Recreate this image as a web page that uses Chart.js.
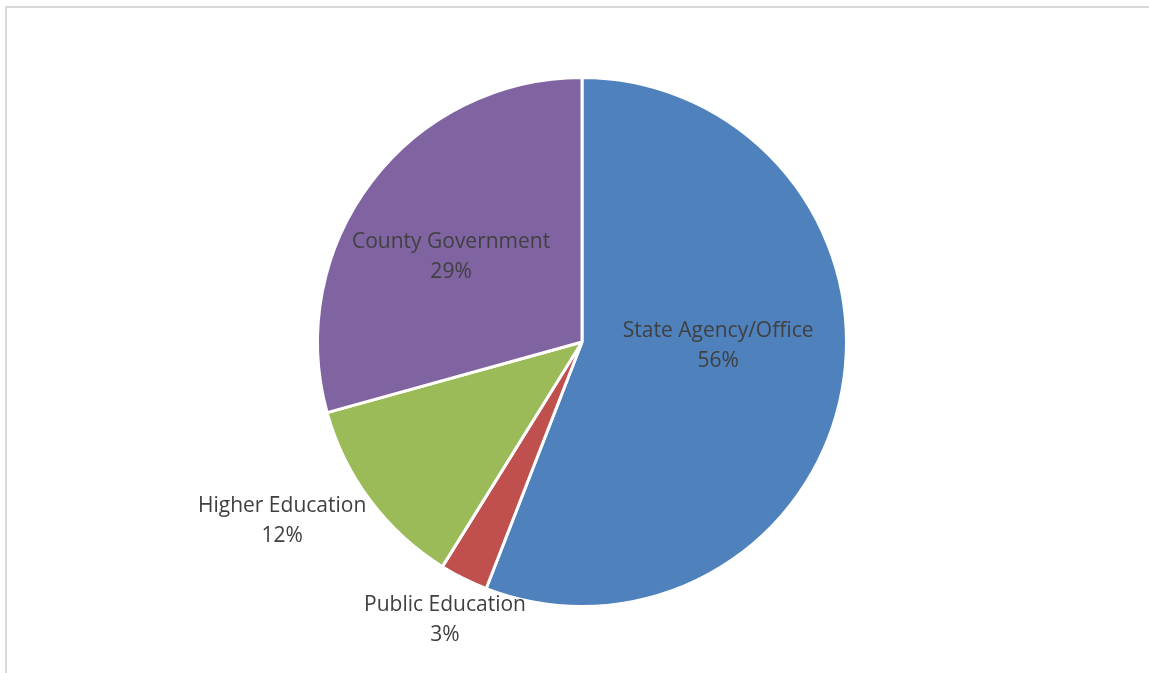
<!DOCTYPE html>
<html>
<head>
<meta charset="utf-8">
<script src="https://cdn.jsdelivr.net/npm/chart.js@4/dist/chart.umd.min.js"></script>
<style>
  html, body { margin: 0; padding: 0; background: #fff; }
  #frame {
    position: absolute; left: 5px; top: 6px; width: 1200px; height: 700px;
    border-top: 2px solid #d9d9d9; border-left: 2px solid #d9d9d9;
  }
  #wrap { position: absolute; left: 0; top: 0; width: 1149px; height: 673px; }
</style>
</head>
<body>
<div id="frame"></div>
<div id="wrap"><canvas id="chart"></canvas></div>
<script>
// slice categories and shares (percent), clockwise from 12 o'clock
const categories = ['State Agency/Office', 'Public Education', 'Higher Education', 'County Government'];
const shares = [55.9, 2.95, 11.85, 29.3];
const sliceColors = ['#4f81bd', '#c0504d', '#9bbb59', '#8064a2'];

// label placement: fraction of radius along slice mid-angle, angle nudge (deg)
const labelRadius = [0.515, 1.172, 1.32, 0.59];
const labelNudge = [-8.9, -0.33, 6, -4.3];

const total = shares.reduce((a, b) => a + b, 0);

const pieLabels = {
    id: 'pieLabels',
    afterDatasetsDraw(chart){
        const ctx = chart.ctx;
        const meta = chart.getDatasetMeta(0);
        ctx.save();
        ctx.font = '21px "Open Sans", sans-serif';
        ctx.fillStyle = '#404040';
        ctx.textAlign = 'center';
        ctx.textBaseline = 'middle';
        meta.data.forEach((arc, i) => {
            const p = arc.getProps(['x', 'y', 'startAngle', 'endAngle', 'outerRadius'], true);
            const mid = (p.startAngle + p.endAngle) / 2 + labelNudge[i] * Math.PI / 180;
            const r = p.outerRadius * labelRadius[i];
            const x = p.x + Math.cos(mid) * r;
            const y = p.y + Math.sin(mid) * r;
            const pct = Math.round(shares[i] / total * 100) + '%';
            ctx.fillText(categories[i], x, y - 15);
            ctx.fillText(pct, x, y + 15);
        });
        ctx.restore();
    }
};

const graph = document.querySelector('#chart');
const config_pie = {
    type: 'pie',
    data: {
        labels: categories,
        datasets: [{
            data: shares,
            backgroundColor: sliceColors,
            borderColor: '#ffffff',
            borderWidth: 3
        }]
    },
    options: {
        responsive: true,
        maintainAspectRatio: false,
        animation: false,
        layout: { padding: { left: 316, right: 301, top: 76, bottom: 65 } },
        plugins: {
            legend: { display: false },
            tooltip: { enabled: false }
        }
    },
    plugins: [pieLabels]
};

new Chart(graph, config_pie);
</script>
</body>
</html>
